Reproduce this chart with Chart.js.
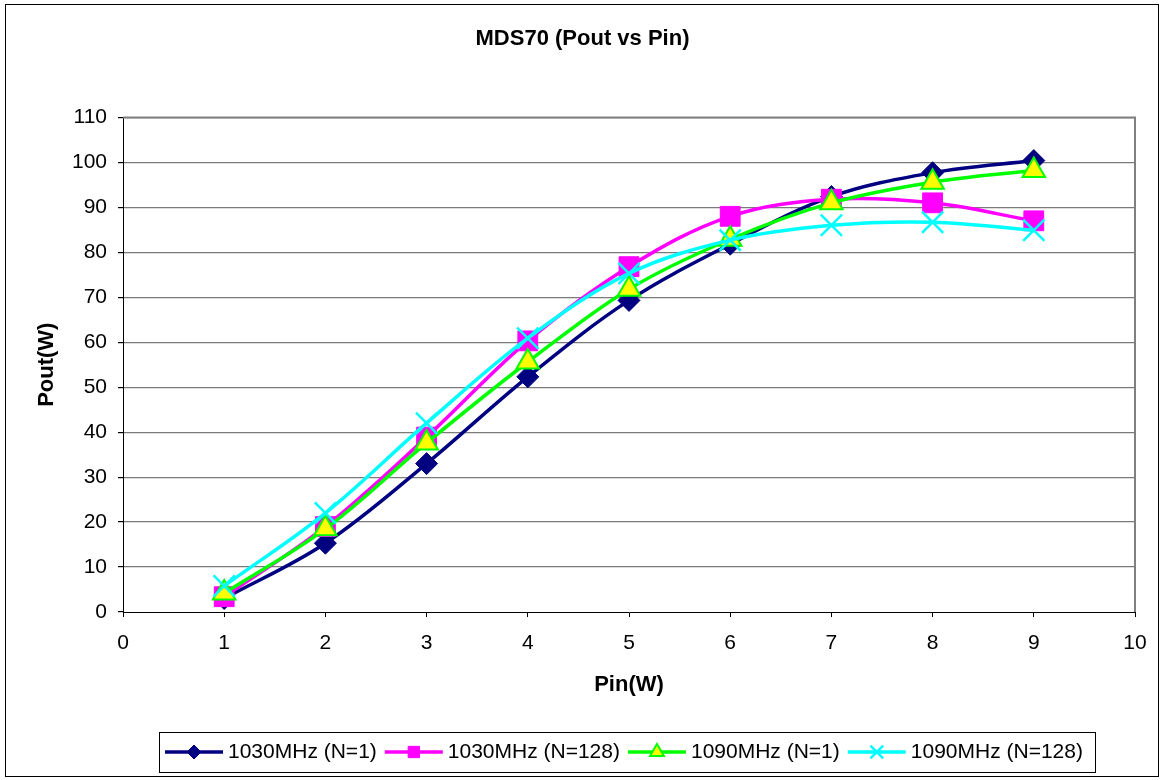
<!DOCTYPE html>
<html>
<head>
<meta charset="utf-8">
<script src="https://cdn.jsdelivr.net/npm/chart.js"></script>
<style>
  html, body { margin: 0; padding: 0; background: #fff; }
  #wrap { position: relative; width: 1163px; height: 780px; }
</style>
</head>
<body>
<div id="wrap"><canvas id="chart"></canvas></div>
<script>
// data
const pinValues = [1, 2, 3, 4, 5, 6, 7, 8, 9];
const f1030n1 = [3.0, 15.3, 33.0, 52.3, 69.3, 81.8, 92.4, 97.7, 100.4];
const f1030n128 = [3.4, 19.0, 38.9, 60.3, 76.8, 88.0, 91.8, 91.0, 87.0];
const f1090n1 = [4.2, 18.5, 37.6, 55.6, 71.8, 82.9, 91.0, 95.6, 98.2];
const f1090n128 = [5.8, 22.0, 42.0, 60.9, 75.3, 82.7, 86.0, 86.7, 84.9];
const seriesNames = ["1030MHz (N=1)", "1030MHz (N=128)", "1090MHz (N=1)", "1090MHz (N=128)"];
const xTicks = [0, 1, 2, 3, 4, 5, 6, 7, 8, 9, 10];
const yTicks = [0, 10, 20, 30, 40, 50, 60, 70, 80, 90, 100, 110];

const FONT = "'Liberation Sans', Arial, sans-serif";

function pts(vals) {
    return vals.map((v, i) => ({ x: pinValues[i], y: v }));
}

// line + marker look for each series (legend uses the same)
const styles = [
    { line: "#000080", fill: "#000080", stroke: "#000080", shape: "rectRot", r: 11, lr: 7, bw: 1 },
    { line: "#FF00FF", fill: "#FF00FF", stroke: "#FF00FF", shape: "rect", r: 14, lr: 8, bw: 1 },
    { line: "#00FF00", fill: "#FFFF00", stroke: "#00FF00", shape: "triangle", r: 13, lr: 8, bw: 2 },
    { line: "#00FFFF", fill: "#00FFFF", stroke: "#00FFFF", shape: "crossRot", r: 15, lr: 9, bw: 2.5 }
];
const seriesData = [f1030n1, f1030n128, f1090n1, f1090n128];

const datasets = seriesData.map((vals, i) => ({
    label: seriesNames[i],
    data: pts(vals),
    borderColor: styles[i].line,
    borderWidth: 3.5,
    tension: 0.35,
    pointStyle: styles[i].shape,
    pointRadius: styles[i].r,
    pointHoverRadius: styles[i].r,
    pointBackgroundColor: styles[i].fill,
    pointBorderColor: styles[i].stroke,
    pointBorderWidth: styles[i].bw,
    order: 4 - i, // later series drawn on top, like Excel
    fill: false
}));

// small marker painter for the hand-drawn legend
function marker(ctx, s, x, y, r) {
    ctx.save();
    ctx.fillStyle = s.fill;
    ctx.strokeStyle = s.stroke;
    ctx.lineWidth = s.bw;
    ctx.beginPath();
    if (s.shape === "rectRot") {
        ctx.moveTo(x, y - r); ctx.lineTo(x + r, y); ctx.lineTo(x, y + r); ctx.lineTo(x - r, y); ctx.closePath();
        ctx.fill(); ctx.stroke();
    } else if (s.shape === "rect") {
        const h = r * Math.SQRT1_2;
        ctx.rect(x - h, y - h, 2 * h, 2 * h);
        ctx.fill(); ctx.stroke();
    } else if (s.shape === "triangle") {
        ctx.moveTo(x, y - r); ctx.lineTo(x + r * 0.866, y + r * 0.5); ctx.lineTo(x - r * 0.866, y + r * 0.5); ctx.closePath();
        ctx.fill(); ctx.stroke();
    } else {
        const h = r * Math.SQRT1_2;
        ctx.moveTo(x - h, y - h); ctx.lineTo(x + h, y + h);
        ctx.moveTo(x + h, y - h); ctx.lineTo(x - h, y + h);
        ctx.stroke();
    }
    ctx.restore();
}

const framePlugin = {
    id: "frame",
    beforeDatasetsDraw(chart) {
        const { ctx, chartArea: a } = chart;
        ctx.save();
        ctx.strokeStyle = "#808080";
        ctx.lineWidth = 2;
        ctx.beginPath();
        ctx.moveTo(a.left, a.top);
        ctx.lineTo(a.right, a.top);
        ctx.lineTo(a.right, a.bottom);
        ctx.stroke();
        ctx.restore();
    },
    afterDraw(chart) {
        const ctx = chart.ctx;
        ctx.save();
        // outer chart border
        ctx.strokeStyle = "#000";
        ctx.lineWidth = 1;
        ctx.strokeRect(5.5, 4.5, 1153, 772);

        // legend box
        ctx.strokeRect(159.5, 732.5, 936, 40);
        ctx.font = "21px " + FONT;
        ctx.textBaseline = "middle";
        ctx.fillStyle = "#000";
        let x = 165;
        const y = 752;
        seriesNames.forEach((name, i) => {
            const s = styles[i];
            ctx.strokeStyle = s.line;
            ctx.lineWidth = 3.5;
            ctx.beginPath();
            ctx.moveTo(x, y);
            ctx.lineTo(x + 58, y);
            ctx.stroke();
            marker(ctx, s, x + 29, y, s.lr);
            ctx.fillStyle = "#000";
            ctx.fillText(name, x + 63, y);
            x += 63 + ctx.measureText(name).width + 8;
        });
        ctx.restore();
    }
};

new Chart(document.getElementById("chart"), {
    type: "line",
    data: { datasets: datasets },
    options: {
        responsive: true,
        maintainAspectRatio: false,
        animation: false,
        events: [],
        layout: { padding: { left: 30, right: 28, top: 0, bottom: 78 } },
        plugins: {
            legend: { display: false },
            tooltip: { enabled: false },
            title: {
                display: true,
                text: "MDS70 (Pout vs Pin)",
                color: "#000",
                font: { family: FONT, size: 22, weight: "bold" },
                padding: { top: 26, bottom: 65 }
            }
        },
        scales: {
            x: {
                type: "linear",
                min: xTicks[0],
                max: xTicks[xTicks.length - 1],
                afterBuildTicks: s => { s.ticks = xTicks.map(v => ({ value: v })); },
                afterFit: s => { s.height = 90; },
                grid: { drawOnChartArea: false, drawTicks: true, tickLength: 5, tickColor: "#000" },
                border: { color: "#000", width: 1 },
                ticks: { color: "#000", padding: 14, font: { family: FONT, size: 21 } },
                title: {
                    display: true,
                    text: "Pin(W)",
                    color: "#000",
                    font: { family: FONT, size: 22, weight: "bold" },
                    padding: { top: 0, bottom: 4 }
                }
            },
            y: {
                min: yTicks[0],
                max: yTicks[yTicks.length - 1],
                afterBuildTicks: s => { s.ticks = yTicks.map(v => ({ value: v })); },
                afterFit: s => { s.width = 93; },
                grid: {
                    color: c => (c.tick && c.tick.value === 0) ? "rgba(0,0,0,0)" : "#7a7a7a",
                    lineWidth: 1.2,
                    tickLength: 5,
                    tickColor: "#000"
                },
                border: { color: "#000", width: 1 },
                ticks: { color: "#000", padding: 11, font: { family: FONT, size: 21 } },
                title: {
                    display: true,
                    text: "Pout(W)",
                    color: "#000",
                    font: { family: FONT, size: 22, weight: "bold" },
                    padding: { top: 4, bottom: 0 }
                }
            }
        }
    },
    plugins: [framePlugin]
});
</script>
</body>
</html>
